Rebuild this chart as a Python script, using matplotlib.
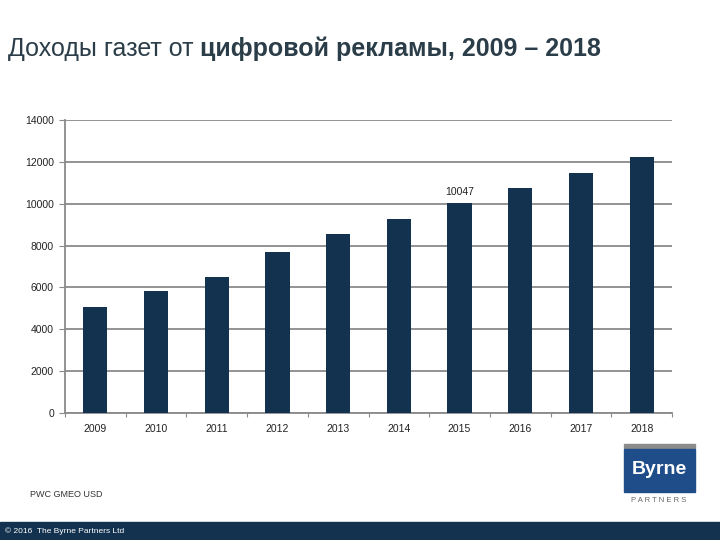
import matplotlib.pyplot as plt
from matplotlib.patches import Rectangle

# data
years = ['2009', '2010', '2011', '2012', '2013', '2014', '2015', '2016', '2017', '2018']
revenue = [5050, 5830, 6500, 7700, 8550, 9270, 10047, 10750, 11470, 12250]
labelled_year = '2015'
y_ticks = [0, 2000, 4000, 6000, 8000, 10000, 12000, 14000]

bar_color = '#13324f'
grid_color = '#8a8a8a'

plt.rcParams['font.family'] = ['Liberation Sans', 'DejaVu Sans']

fig = plt.figure(figsize=(7.2, 5.4), dpi=100)
ax = fig.add_axes([65 / 720, 1 - 413 / 540, 607 / 720, 293 / 540])

x = list(range(len(years)))
ax.bar(x, revenue, width=0.4, color=bar_color, zorder=3)

# only one bar carries a value label
i = years.index(labelled_year)
ax.text(x[i], revenue[i] + 250, str(revenue[i]), ha='center', va='bottom', fontsize=7.5, color='#222222')

ax.set_xlim(-0.5, len(years) - 0.5)
ax.set_ylim(0, 14000)
ax.set_yticks(y_ticks)
ax.set_yticklabels([str(t) for t in y_ticks], fontsize=7.5, color='#222222')
ax.yaxis.grid(True, color=grid_color, linewidth=1.3, zorder=0)

# category boundary ticks, labels centred under bars
ax.set_xticks([v - 0.5 for v in x] + [len(years) - 0.5])
ax.set_xticklabels([])
ax.set_xticks(x, minor=True)
ax.set_xticklabels(years, minor=True, fontsize=7.5, color='#222222')
ax.tick_params(axis='x', which='minor', length=0, pad=8)
ax.tick_params(axis='x', which='major', length=3, color=grid_color, direction='out')
ax.tick_params(axis='y', length=4, color=grid_color, pad=4)

for side in ['top', 'right']:
    ax.spines[side].set_visible(False)
for side in ['left', 'bottom']:
    ax.spines[side].set_color(grid_color)
    ax.spines[side].set_linewidth(1.3)

# title: regular + bold part
title_color = '#2b3d48'
t1 = fig.text(8 / 720, 1 - 56 / 540, 'Доходы газет от ', fontsize=18, color=title_color, ha='left', va='baseline')
fig.canvas.draw()
bb = t1.get_window_extent()
fig.text(bb.x1 / 720, 1 - 56 / 540, 'цифровой рекламы, 2009 – 2018', fontsize=18, fontweight='bold',
         color=title_color, ha='left', va='baseline')

fig.text(30 / 720, 1 - 497 / 540, 'PWC GMEO USD', fontsize=6.5, color='#333333', ha='left', va='baseline')

# footer band
fig.patches.append(Rectangle((0, 0), 1, 18 / 540, transform=fig.transFigure, color='#13324f', zorder=0))
fig.text(5 / 720, 9 / 540, '© 2016  The Byrne Partners Ltd', fontsize=6, color='white', ha='left', va='center')

# logo
fig.patches.append(Rectangle((624 / 720, 1 - 448 / 540), 71 / 720, 4 / 540, transform=fig.transFigure,
                             color='#8c8c8c'))
fig.patches.append(Rectangle((624 / 720, 1 - 492 / 540), 71 / 720, 43 / 540, transform=fig.transFigure,
                             color='#1f4d8a'))
fig.text(659 / 720, 1 - 470 / 540, 'Byrne', fontsize=14, fontweight='bold', color='white', ha='center', va='center')
fig.text(659 / 720, 1 - 501 / 540, 'P A R T N E R S', fontsize=5.5, color='#666666', ha='center', va='center')

fig.savefig('out.png', dpi=100)
